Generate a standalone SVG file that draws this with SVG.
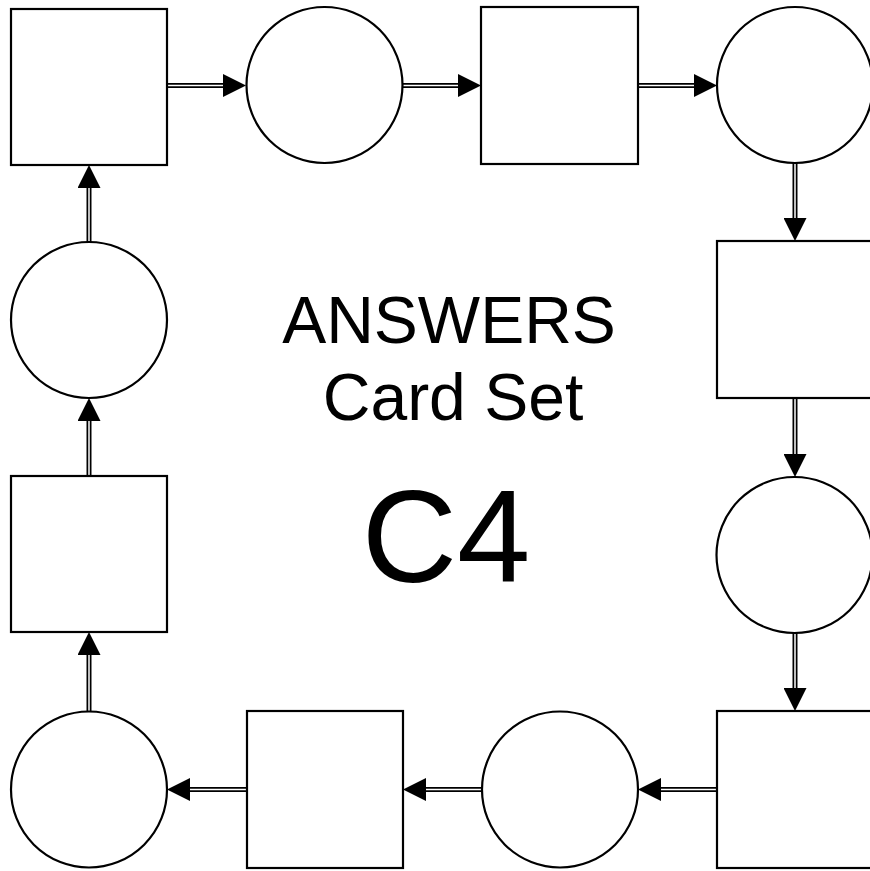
<svg xmlns="http://www.w3.org/2000/svg" width="870" height="871" viewBox="0 0 870 871">
<style>
.node{fill:#fff;stroke:#000;stroke-width:2.2}
.outer{fill:none;stroke:#000;stroke-width:5}
.inner{fill:none;stroke:#fff;stroke-width:1.5}
.t{font-family:"Liberation Sans",Arial,sans-serif;fill:#000;text-anchor:middle}
</style>
<defs>
<marker id="ah" viewBox="0 0 23 23" refX="0" refY="11.5" markerWidth="23" markerHeight="23" markerUnits="userSpaceOnUse" orient="auto">
<path d="M0,0 L23,11.5 L0,23 Z" fill="#000"/>
</marker>
</defs>
<rect width="870" height="871" fill="#fff"/>
<g id="connectors">
<path id="e1" class="outer" d="M167,85.5 H223" marker-end="url(#ah)"/>
<path class="inner" d="M167,85.5 H223"/>
<path id="e2" class="outer" d="M403,85.5 H458" marker-end="url(#ah)"/>
<path class="inner" d="M403,85.5 H458"/>
<path id="e3" class="outer" d="M638,85.5 H694" marker-end="url(#ah)"/>
<path class="inner" d="M638,85.5 H694"/>
<path id="e4" class="outer" d="M795,163 V218" marker-end="url(#ah)"/>
<path class="inner" d="M795,163 V218"/>
<path id="e5" class="outer" d="M795,398 V454" marker-end="url(#ah)"/>
<path class="inner" d="M795,398 V454"/>
<path id="e6" class="outer" d="M795,633 V688" marker-end="url(#ah)"/>
<path class="inner" d="M795,633 V688"/>
<path id="e7" class="outer" d="M717,789.5 H661" marker-end="url(#ah)"/>
<path class="inner" d="M717,789.5 H661"/>
<path id="e8" class="outer" d="M482,789.5 H426" marker-end="url(#ah)"/>
<path class="inner" d="M482,789.5 H426"/>
<path id="e9" class="outer" d="M247,789.5 H190" marker-end="url(#ah)"/>
<path class="inner" d="M247,789.5 H190"/>
<path id="e10" class="outer" d="M89,711 V655" marker-end="url(#ah)"/>
<path class="inner" d="M89,711 V655"/>
<path id="e11" class="outer" d="M89,476 V421" marker-end="url(#ah)"/>
<path class="inner" d="M89,476 V421"/>
<path id="e12" class="outer" d="M89,242 V188" marker-end="url(#ah)"/>
<path class="inner" d="M89,242 V188"/>
</g>
<g id="n1"><rect class="node" x="11" y="9" width="156" height="156"/></g>
<g id="n2"><circle class="node" cx="324.5" cy="85" r="78"/></g>
<g id="n3"><rect class="node" x="481" y="7" width="157" height="157"/></g>
<g id="n4"><circle class="node" cx="795" cy="85" r="78"/></g>
<g id="n5"><rect class="node" x="717" y="241" width="156" height="157"/></g>
<g id="n6"><circle class="node" cx="794.5" cy="555" r="78"/></g>
<g id="n7"><rect class="node" x="717" y="711" width="156" height="157"/></g>
<g id="n8"><circle class="node" cx="560" cy="789.5" r="78"/></g>
<g id="n9"><rect class="node" x="247" y="711" width="156" height="157"/></g>
<g id="n10"><circle class="node" cx="89" cy="789.5" r="78"/></g>
<g id="n11"><rect class="node" x="11" y="476" width="156" height="156"/></g>
<g id="n12"><circle class="node" cx="89" cy="320" r="78"/></g>
<g id="title">
<text class="t" x="449" y="343" font-size="66">ANSWERS</text>
<text class="t" x="453" y="420" font-size="66">Card Set</text>
<text class="t" x="446" y="582" font-size="132">C4</text>
</g>
</svg>
